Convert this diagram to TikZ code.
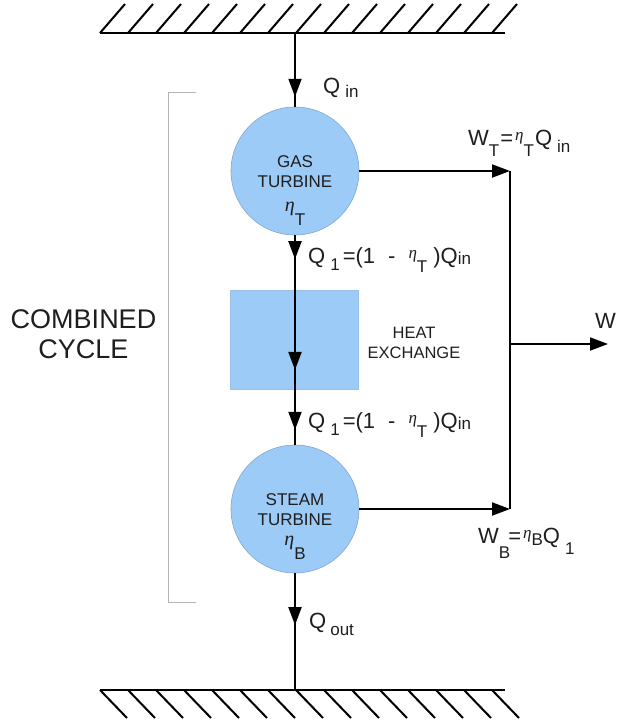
\documentclass[tikz,border=0pt]{standalone}
\usepackage{fontspec}
\setmainfont{Liberation Sans}
\newfontfamily\grk{Liberation Serif}
\usetikzlibrary{arrows.meta,decorations.markings}
\definecolor{blu}{HTML}{9DCBF8}
\definecolor{blued}{HTML}{7FA6CC}
\definecolor{ink}{HTML}{1E1E1E}
\definecolor{brk}{HTML}{B4B4B4}
\newcommand{\lo}[2][6pt]{\raisebox{-#1}{\fontsize{17}{17}\selectfont #2}}
\newcommand{\eh}{\raisebox{5pt}{\fontsize{17}{17}\selectfont\grk\itshape η}}
\newcommand{\etab}{{\fontsize{20}{20}\selectfont\grk\itshape η}}
\newcommand{\qone}{Q\hspace{5pt}\lo[7pt]{1}\hspace{3pt}=(1\hspace{13pt}-\hspace{13pt}\eh\lo[9pt]{T}\hspace{6pt})Q\lo[1pt]{in}}
\begin{document}
\begin{tikzpicture}[x=1pt,y=-1pt,
 wire/.style={line width=2pt, draw=black},
 tip/.style={-{Triangle[length=18pt,width=13pt]}},
 hatch/.style={line width=2pt},
 ground/.style={line width=2.5pt},
 turb/.style={circle, fill=blu, draw=blued, line width=0.6pt, minimum size=128pt, inner sep=0pt},
 hxbox/.style={rectangle, fill=blu, draw=blu!85!gray, line width=0.5pt, minimum width=128pt, minimum height=99pt, inner sep=0pt},
 lbl/.style={font=\fontsize{22}{22}\selectfont, text=ink, inner sep=0pt, anchor=base west},
 inner/.style={font=\fontsize{17}{20}\selectfont, text=ink, inner sep=0pt, anchor=base},
 side/.style={font=\fontsize{27}{30}\selectfont, text=ink, inner sep=0pt, anchor=base},
 hxlbl/.style={font=\fontsize{16.5}{20}\selectfont, text=ink, inner sep=0pt, anchor=base},
 midtip/.style={postaction={decorate}, decoration={markings, mark=at position #1 with {\arrow{Triangle[length=18pt,width=13pt]}}}},
]
\useasboundingbox (0,0) rectangle (616,723);
% grounds
\draw[ground] (100,33) -- (505,33);
\foreach \i in {0,...,14} \draw[hatch] (100+28*\i,33) -- ++(25,-29);
\draw[ground] (100,690) -- (505,690);
\foreach \i in {0,...,14} \draw[hatch] (100+28*\i,690) -- ++(27,28);
% bracket
\draw[brk, line width=1pt] (196,92) -- (168,92) -- (168,602) -- (196,602);
% nodes
\coordinate (topg) at (295,33);
\coordinate (botg) at (295,690);
\node[turb] (gas) at (295,171) {};
\node[turb] (steam) at (295,509) {};
\node[hxbox] (hx) at (294,339.5) {};
\coordinate (wt) at (510,171);
\coordinate (wb) at (510,509);
\coordinate (wm) at (510,344);
\coordinate (wout) at (608,344);
% connectors
\draw[wire, midtip=0.865] (topg) -- (gas.north);
\draw[wire, postaction={decorate}, decoration={markings,
  mark=at position 0.114 with {\arrow{Triangle[length=18pt,width=13pt]}},
  mark=at position 0.643 with {\arrow{Triangle[length=18pt,width=13pt]}},
  mark=at position 0.929 with {\arrow{Triangle[length=18pt,width=13pt]}}}] (gas.south) -- (steam.north);
\draw[wire, midtip=0.444] (steam.south) -- (botg);
\draw[wire, tip] (gas.east) -- (wt);
\draw[wire, tip] (steam.east) -- (wb);
\draw[wire] (wt) -- (wb);
\draw[wire, tip] (wm) -- (wout);
% texts in circles
\node[inner] (g1) at (295,167) {GAS};
\node[inner] (g2) at (295,187) {TURBINE};
\node[inner] (g3) at (295,211) {\etab\lo[14pt]{T}};
\node[inner] (s1) at (295,505) {STEAM};
\node[inner] (s2) at (295,525) {TURBINE};
\node[inner] (s3) at (295,545) {\etab\lo[14pt]{B}};
\node[hxlbl] (h1) at (414,338) {HEAT};
\node[hxlbl] (h2) at (414,358) {EXCHANGE};
\node[side] (c1) at (83.5,328) {COMBINED};
\node[side] (c2) at (83.5,358) {CYCLE};
% labels
\node[lbl] (lqin) at (323,93) {Q\hspace{5pt}\lo[4pt]{in}};
\node[lbl] (lq1a) at (308,263) {\qone};
\node[lbl] (lq1b) at (308,428) {\qone};
\node[lbl] (lqout) at (309,628) {Q\hspace{4pt}\lo[7pt]{out}};
\node[lbl] (lwt) at (468,145) {W\lo[11pt]{T}\hspace{1pt}=\hspace{2pt}\eh\lo[11pt]{T}\hspace{1pt}Q\hspace{5pt}\lo[7pt]{in}};
\node[lbl] (lwb) at (478,543) {W\lo[15pt]{B}\hspace{-2pt}=\hspace{2pt}\eh\lo[2pt]{B}Q\hspace{5pt}\lo[11pt]{1}};
\node[lbl] (lw) at (595,328) {W};
\end{tikzpicture}
\end{document}
